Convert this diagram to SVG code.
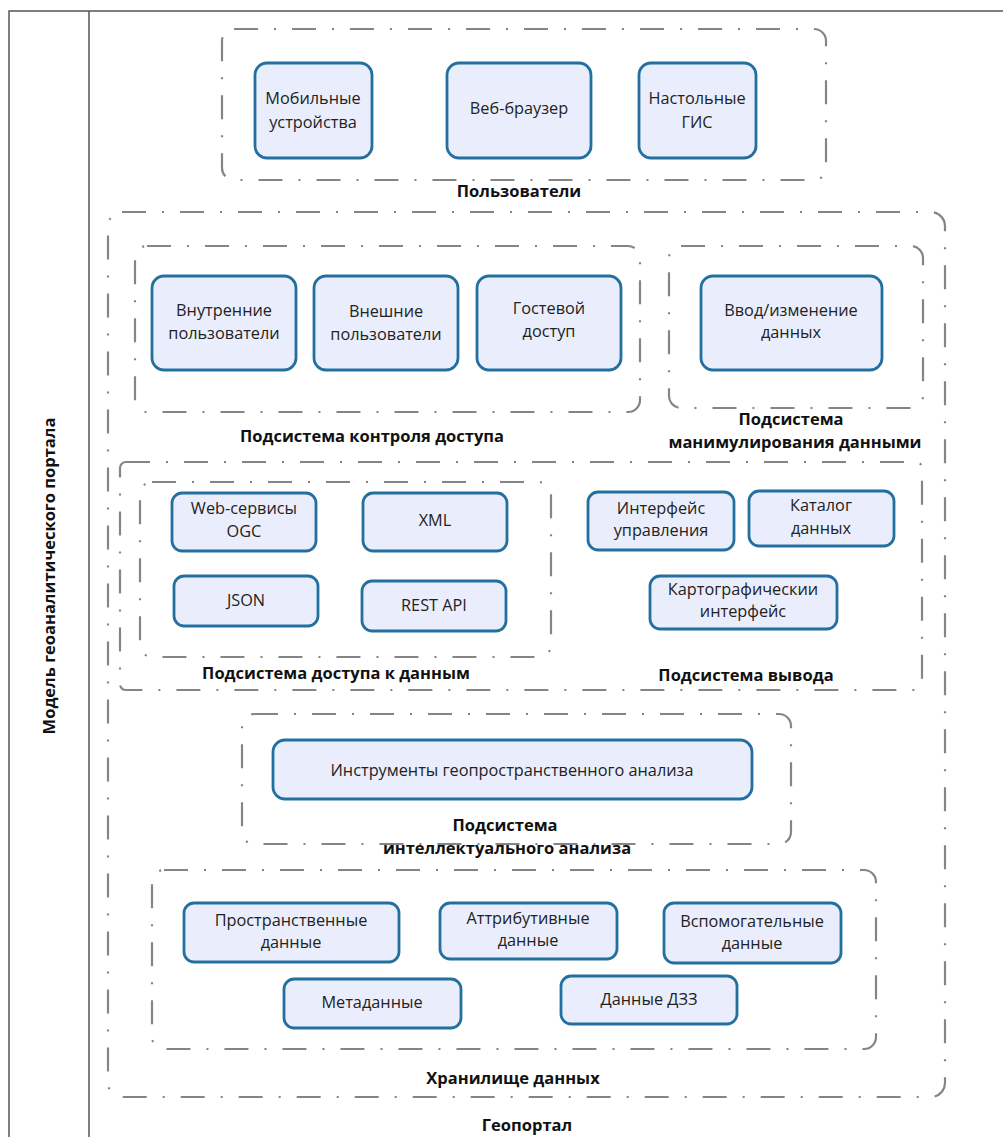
<svg xmlns="http://www.w3.org/2000/svg" width="1003" height="1137" viewBox="0 0 1003 1137">
<style>
.frame{fill:none;stroke:#555;stroke-width:1.5}
.grp{fill:none;stroke:#858585;stroke-width:2.2;stroke-dasharray:24 16 2 16}
.node rect{fill:#eaeefc;stroke:#23709f;stroke-width:2.8}
.t{font-family:"Open Sans","Liberation Sans",sans-serif;font-size:16.3px;fill:#222;text-anchor:middle}
.b{font-family:"Open Sans","Liberation Sans",sans-serif;font-size:16.5px;font-weight:bold;fill:#111;text-anchor:middle}
</style>
<rect width="1003" height="1137" fill="#fff"/>
<g id="frame">
<path class="frame" d="M9 1137 V11 H1003 M89 11 V1137"/>
<text class="b" transform="translate(55,576) rotate(-90)">Модель геоаналитического портала</text>
</g>
<g id="containers">
<rect id="grp-users" class="grp" x="222" y="29" width="604" height="151" rx="12"/>
<text class="b" x="519" y="197">Пользователи</text>
<rect id="grp-geoportal" class="grp" x="108" y="212" width="837" height="885" rx="14"/>
<text class="b" x="527" y="1131">Геопортал</text>
<rect id="grp-access" class="grp" x="135" y="246" width="505" height="166" rx="12"/>
<text class="b" x="372" y="442">Подсистема контроля доступа</text>
<rect id="grp-manip" class="grp" x="669" y="246" width="254" height="162" rx="12"/>
<text class="b" x="791" y="425">Подсистема</text>
<text class="b" x="795" y="448">манимулирования данными</text>
<rect id="grp-output" class="grp" x="120" y="462" width="802" height="228" rx="6"/>
<text class="b" x="746" y="681">Подсистема вывода</text>
<rect id="grp-dataaccess" class="grp" x="140" y="482" width="411" height="175" rx="12"/>
<text class="b" x="336" y="679">Подсистема доступа к данным</text>
<rect id="grp-analysis" class="grp" x="242" y="714" width="549" height="130" rx="12"/>
<text class="b" x="505" y="831">Подсистема</text>
<text class="b" x="507" y="854">интеллектуального анализа</text>
<rect id="grp-storage" class="grp" x="152" y="870" width="724" height="179" rx="12"/>
<text class="b" x="513" y="1084">Хранилище данных</text>
</g>
<g id="connectors"></g>
<g id="n-mobile" class="node"><rect x="255" y="63" width="117" height="95" rx="12"/><text class="t" x="313" y="104">Мобильные</text><text class="t" x="313" y="128">устройства</text></g>
<g id="n-browser" class="node"><rect x="447" y="63" width="144" height="95" rx="12"/><text class="t" x="519" y="114">Веб-браузер</text></g>
<g id="n-desktop" class="node"><rect x="639" y="63" width="117" height="95" rx="12"/><text class="t" x="697" y="104">Настольные</text><text class="t" x="697" y="128">ГИС</text></g>
<g id="n-internal" class="node"><rect x="152" y="276" width="144" height="94" rx="12"/><text class="t" x="224" y="316">Внутренние</text><text class="t" x="224" y="339">пользователи</text></g>
<g id="n-external" class="node"><rect x="314" y="276" width="144" height="94" rx="12"/><text class="t" x="386" y="317">Внешние</text><text class="t" x="386" y="340">пользователи</text></g>
<g id="n-guest" class="node"><rect x="477" y="276" width="144" height="94" rx="12"/><text class="t" x="549" y="314">Гостевой</text><text class="t" x="549" y="337">доступ</text></g>
<g id="n-input" class="node"><rect x="701" y="276" width="181" height="94" rx="12"/><text class="t" x="791" y="316">Ввод/изменение</text><text class="t" x="791" y="338">данных</text></g>
<g id="n-ogc" class="node"><rect x="172" y="493" width="144" height="58" rx="10"/><text class="t" x="244" y="514">Web-сервисы</text><text class="t" x="244" y="537">OGC</text></g>
<g id="n-xml" class="node"><rect x="363" y="493" width="144" height="58" rx="10"/><text class="t" x="435" y="526">XML</text></g>
<g id="n-json" class="node"><rect x="174" y="576" width="144" height="50" rx="10"/><text class="t" x="246" y="606">JSON</text></g>
<g id="n-rest" class="node"><rect x="362" y="581" width="144" height="50" rx="10"/><text class="t" x="434" y="611">REST API</text></g>
<g id="n-mgmt" class="node"><rect x="588" y="492" width="146" height="58" rx="10"/><text class="t" x="661" y="514">Интерфейс</text><text class="t" x="661" y="536">управления</text></g>
<g id="n-catalog" class="node"><rect x="749" y="491" width="145" height="55" rx="10"/><text class="t" x="821" y="511">Каталог</text><text class="t" x="821" y="534">данных</text></g>
<g id="n-carto" class="node"><rect x="650" y="576" width="187" height="53" rx="10"/><text class="t" x="743" y="595">Картографическии</text><text class="t" x="743" y="617">интерфейс</text></g>
<g id="n-tools" class="node"><rect x="273" y="740" width="479" height="59" rx="12"/><text class="t" x="512" y="776">Инструменты геопространственного анализа</text></g>
<g id="n-spatial" class="node"><rect x="184" y="903" width="215" height="59" rx="10"/><text class="t" x="291" y="926">Пространственные</text><text class="t" x="291" y="948">данные</text></g>
<g id="n-attr" class="node"><rect x="440" y="903" width="177" height="56" rx="10"/><text class="t" x="528" y="924">Аттрибутивные</text><text class="t" x="528" y="946">данные</text></g>
<g id="n-aux" class="node"><rect x="664" y="903" width="177" height="60" rx="10"/><text class="t" x="752" y="927">Вспомогательные</text><text class="t" x="752" y="949">данные</text></g>
<g id="n-meta" class="node"><rect x="284" y="979" width="177" height="49" rx="10"/><text class="t" x="372" y="1008">Метаданные</text></g>
<g id="n-dzz" class="node"><rect x="561" y="976" width="176" height="48" rx="10"/><text class="t" x="649" y="1005">Данные ДЗЗ</text></g>
</svg>
